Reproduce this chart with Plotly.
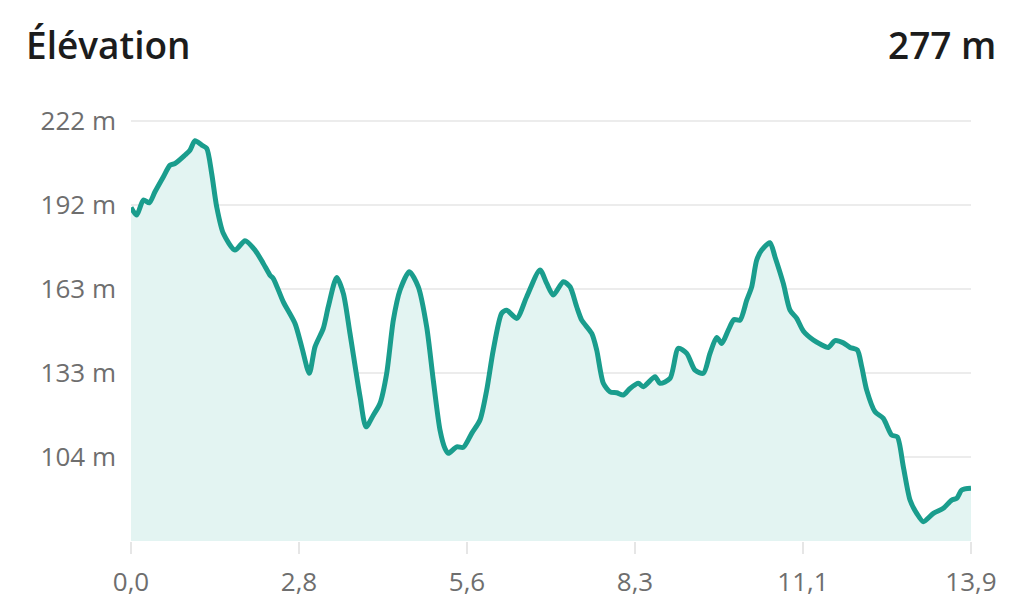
import plotly.graph_objects as go

# Distance (km) and elevation (m)
distance_km = [0.000, 0.094, 0.204, 0.303, 0.397, 0.534, 0.645, 0.728, 0.894, 0.976,
               1.059, 1.170, 1.253, 1.335, 1.418, 1.527, 1.721, 1.886, 2.052, 2.189,
               2.300, 2.355, 2.520, 2.714, 2.825, 2.951, 3.045, 3.182, 3.265, 3.404,
               3.513, 3.624, 3.790, 3.889, 4.010, 4.120, 4.231, 4.341, 4.451, 4.605,
               4.754, 4.893, 5.002, 5.113, 5.196, 5.251, 5.390, 5.499, 5.638, 5.775,
               5.886, 5.995, 6.134, 6.217, 6.383, 6.548, 6.768, 6.879, 6.988, 7.154,
               7.265, 7.375, 7.458, 7.624, 7.706, 7.816, 7.927, 8.037, 8.147, 8.258,
               8.395, 8.478, 8.671, 8.754, 8.920, 9.057, 9.196, 9.333, 9.471, 9.581,
               9.692, 9.775, 9.884, 9.979, 10.078, 10.189, 10.271, 10.354, 10.437, 10.574,
               10.657, 10.794, 10.905, 11.016, 11.125, 11.291, 11.402, 11.539, 11.650, 11.787,
               11.898, 12.019, 12.092, 12.174, 12.312, 12.449, 12.588, 12.681, 12.780, 12.891,
               13.002, 13.111, 13.277, 13.442, 13.581, 13.664, 13.747, 13.900]
elevation_m = [191.7, 189.0, 194.3, 193.3, 197.2, 202.4, 206.5, 207.1, 210.1, 211.8,
               215.1, 213.6, 212.4, 203.6, 191.9, 182.6, 176.7, 180.0, 176.7, 172.0,
               167.9, 166.7, 158.5, 150.9, 142.7, 133.4, 142.7, 149.2, 156.8, 167.1,
               161.5, 147.4, 125.2, 114.6, 118.7, 122.8, 133.4, 152.1, 162.6, 169.1,
               163.8, 149.7, 131.0, 113.5, 107.0, 105.3, 107.6, 107.4, 112.3, 117.0,
               127.5, 141.6, 154.5, 155.6, 152.7, 160.3, 169.7, 165.0, 160.9, 165.6,
               163.8, 156.8, 152.1, 147.4, 141.6, 129.9, 126.9, 126.6, 125.8, 128.1,
               129.9, 128.7, 132.2, 129.9, 131.6, 142.2, 140.4, 134.5, 133.4, 140.4,
               146.0, 143.9, 148.6, 152.3, 152.1, 159.1, 163.8, 173.2, 176.7, 179.3,
               174.3, 165.0, 155.6, 152.7, 148.3, 145.1, 143.7, 142.5, 144.9, 144.1,
               142.5, 141.6, 135.7, 127.5, 119.9, 117.6, 111.7, 111.1, 100.6, 88.9,
               84.2, 81.3, 84.2, 86.0, 88.9, 89.5, 92.4, 93.0]

x_tick_values = [0.0, 2.78, 5.56, 8.34, 11.12, 13.9]
x_tick_labels = ["0,0", "2,8", "5,6", "8,3", "11,1", "13,9"]
y_tick_values = [104.0, 133.5, 163.0, 192.5, 222.0]
y_tick_labels = ["104 m", "133 m", "163 m", "192 m", "222 m"]
y_range = [74.5, 222.4]
title_text = "Élévation"
total_text = "277 m"

FONT = "Open Sans"
LINE = "#1a9d8d"
FILL = "#e3f4f2"

# The page body has an 8px margin, so the figure sits at (8, 8) in the window.
OFF = 8
PL, PR, PT, PB = 131 - OFF, 971 - OFF, 120 - OFF, 541 - OFF
W, H = 1024, 614
PW, PH = PR - PL, PB - PT

fig = go.Figure()
fig.add_trace(go.Scatter(
    x=distance_km, y=elevation_m, mode="lines",
    line=dict(color=LINE, width=5, shape="spline", smoothing=0.7),
    fill="tozeroy", fillcolor=FILL, hoverinfo="skip", showlegend=False,
))

fig.update_layout(
    width=W, height=H,
    margin=dict(l=PL, r=W - PR, t=PT, b=H - PB, pad=0),
    paper_bgcolor="white", plot_bgcolor="white",
    font=dict(family=FONT, size=26, color="#6e6e6e"),
    xaxis=dict(range=[0, 13.9], tickvals=x_tick_values, ticktext=x_tick_labels,
               showgrid=False, zeroline=False, showline=False,
               ticks="outside", ticklen=12, tickwidth=2, tickcolor="#e6e6e6",
               ticklabelstandoff=6, fixedrange=True),
    yaxis=dict(range=y_range, tickvals=y_tick_values, ticktext=y_tick_labels,
               showgrid=True, gridcolor="#ececec", gridwidth=2,
               zeroline=False, showline=False, ticks="",
               ticklabelstandoff=14, fixedrange=True),
    annotations=[
        dict(text=title_text, xref="paper", yref="paper", x=(24 - 131) / PW,
             y=(541 - 44) / PH, xanchor="left", yanchor="middle", showarrow=False,
             font=dict(family=FONT, size=37, color="#1c1c1c", weight=600)),
        dict(text=total_text, xref="paper", yref="paper", x=(998 - 131) / PW,
             y=(541 - 44) / PH, xanchor="right", yanchor="middle", showarrow=False,
             font=dict(family=FONT, size=37, color="#1c1c1c", weight=600)),
    ],
)

fig.write_html("out.html")
